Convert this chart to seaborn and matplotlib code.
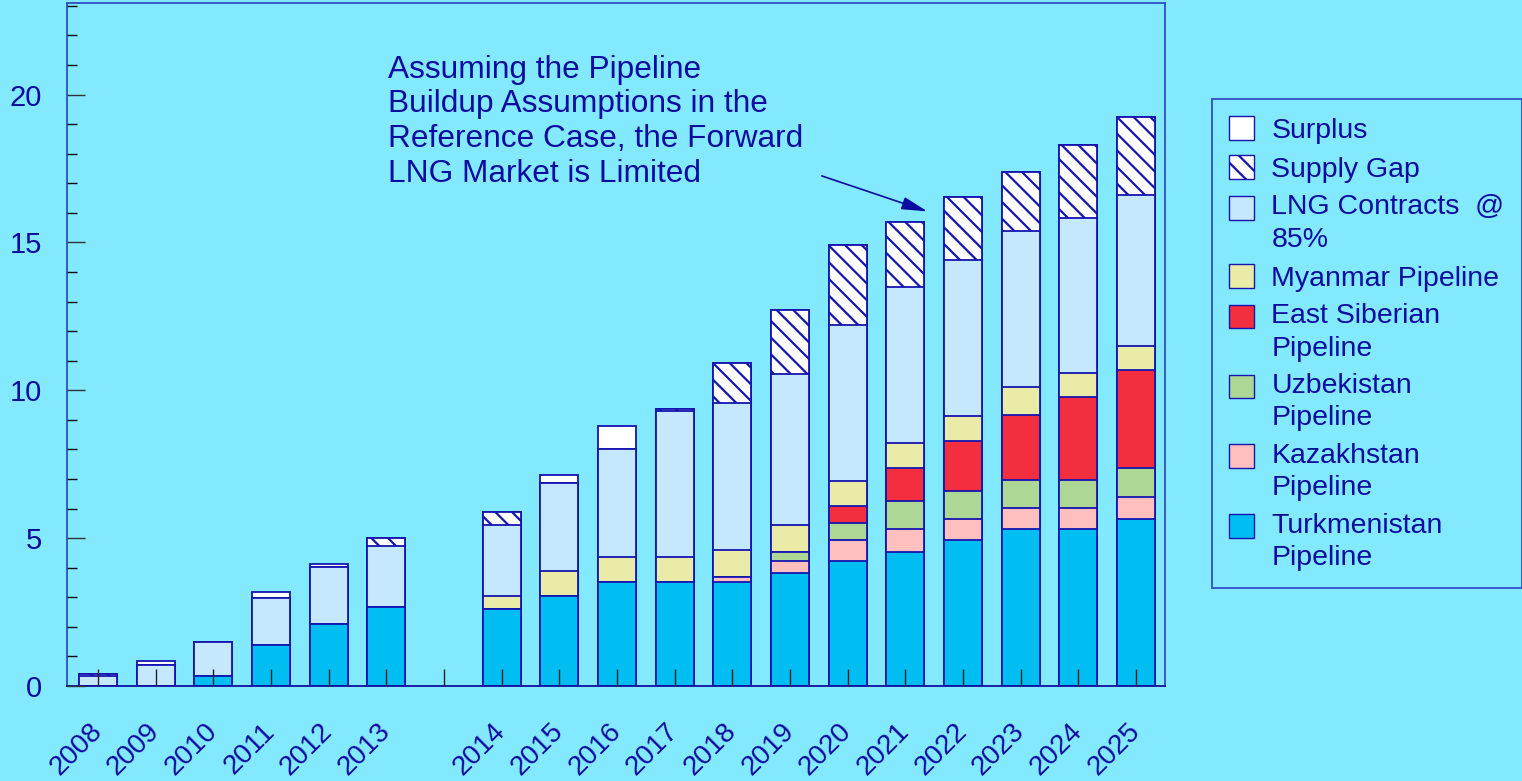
import numpy as np
import pandas as pd
import seaborn as sns
import matplotlib.pyplot as plt
from matplotlib.patches import Patch
from matplotlib.legend_handler import HandlerPatch
from matplotlib.ticker import MultipleLocator

# values (bcm), bottom layer first
years = ["2008", "2009", "2010", "2011", "2012", "2013",
         "2014", "2015", "2016", "2017", "2018", "2019",
         "2020", "2021", "2022", "2023", "2024", "2025"]
turkmenistan = [0, 0, 0.34, 1.37, 2.08, 2.68, 2.60, 3.05, 3.51, 3.51, 3.50, 3.83,
                4.21, 4.53, 4.93, 5.30, 5.30, 5.63]
kazakhstan = [0, 0, 0, 0, 0, 0, 0, 0, 0, 0, 0.19, 0.38,
              0.72, 0.77, 0.70, 0.71, 0.71, 0.77]
uzbekistan = [0, 0, 0, 0, 0, 0, 0, 0, 0, 0, 0, 0.33,
              0.57, 0.97, 0.97, 0.97, 0.97, 0.97]
east_siberian = [0, 0, 0, 0, 0, 0, 0, 0, 0, 0, 0, 0,
                 0.59, 1.10, 1.68, 2.20, 2.78, 3.31]
myanmar = [0, 0, 0, 0, 0, 0, 0.45, 0.85, 0.84, 0.84, 0.90, 0.89,
           0.83, 0.84, 0.84, 0.92, 0.84, 0.83]
lng = [0.34, 0.71, 1.16, 1.60, 1.93, 2.05, 2.39, 2.95, 3.67, 4.95, 4.98, 5.11,
       5.29, 5.29, 5.29, 5.28, 5.24, 5.11]
supply_gap = [0.06, 0, 0, 0, 0, 0.27, 0.45, 0, 0, 0.07, 1.35, 2.19,
              2.70, 2.20, 2.13, 2.00, 2.44, 2.63]
surplus = [0, 0.15, 0, 0.21, 0.13, 0, 0, 0.27, 0.77, 0, 0, 0,
           0, 0, 0, 0, 0, 0]

# empty slot between 2013 and 2014
order = years[:6] + [" "] + years[6:]

bg = "#82E9FF"
txt = "#0C0CA0"
edge = "#1515B0"

layers = [
    ("Turkmenistan\nPipeline", turkmenistan, "#00BEF2", None),
    ("Kazakhstan\nPipeline", kazakhstan, "#FFBFBF", None),
    ("Uzbekistan\nPipeline", uzbekistan, "#ADD795", None),
    ("East Siberian\nPipeline", east_siberian, "#F32E3E", None),
    ("Myanmar Pipeline", myanmar, "#EBEBA8", None),
    ("LNG Contracts  @\n85%", lng, "#C6E8FC", None),
    ("Supply Gap", supply_gap, "white", "\\\\"),
    ("Surplus", surplus, "white", None),
]

df = pd.DataFrame({"year": years})
run = np.zeros(len(years))
for name, vals, c, h in layers:
    run = run + np.array(vals)
    df[name] = run


class TopHandler(HandlerPatch):
    # puts the legend square next to the first line of a two-line label
    def __init__(self, shift, **kw):
        super().__init__(**kw)
        self.shift = shift

    def create_artists(self, legend, orig_handle, xdescent, ydescent,
                       width, height, fontsize, trans):
        return super().create_artists(legend, orig_handle, xdescent,
                                      ydescent - self.shift, width, height,
                                      fontsize, trans)


sns.set_theme(style="ticks")
plt.rcParams["font.family"] = ["Liberation Sans", "DejaVu Sans"]
plt.rcParams["hatch.color"] = edge
plt.rcParams["hatch.linewidth"] = 1.6

fig = plt.figure(figsize=(15.22, 7.81), dpi=100, facecolor=bg)
ax = fig.add_axes([0.044, 0.1217, 0.7214, 0.8745])
ax.set_facecolor(bg)

# stacked bars: draw cumulative heights from the top layer down
for name, vals, c, h in reversed(layers):
    sns.barplot(data=df, x="year", y=name, order=order, color=c, saturation=1,
                width=0.66, edgecolor=edge, linewidth=1.3, hatch=h,
                errorbar=None, ax=ax)

ax.set_axisbelow(False)
ax.set_xlim(-0.54, 18.5)
ax.set_ylim(0, 23.1)
ax.set_xlabel("")
ax.set_ylabel("")

ax.yaxis.set_major_locator(MultipleLocator(5))
ax.yaxis.set_minor_locator(MultipleLocator(1))
ax.tick_params(axis="y", which="major", direction="in", length=13, width=1,
               color="#333333", labelsize=21, labelcolor=txt, pad=18)
ax.tick_params(axis="y", which="minor", direction="in", length=7, width=1,
               color="#111111")
ax.tick_params(axis="x", direction="in", length=12, width=1, color="#222222",
               labelsize=20, labelcolor=txt, pad=30)
for lab in ax.get_xticklabels():
    lab.set_rotation(45)
    lab.set_ha("right")
    lab.set_va("center")
    lab.set_rotation_mode("anchor")

for s in ax.spines.values():
    s.set_color("#2F4FC8")
    s.set_linewidth(1.3)
ax.spines["bottom"].set_color("#1010A0")

ax.text(5.03, 21.35,
        "Assuming the Pipeline\nBuildup Assumptions in the\n"
        "Reference Case, the Forward\nLNG Market is Limited",
        ha="left", va="top", fontsize=22.8, color=txt, linespacing=1.2)
ax.annotate("", xy=(14.38, 16.05), xytext=(12.55, 17.25),
            arrowprops=dict(arrowstyle="-|>,head_length=1.3,head_width=0.32",
                            color=txt, lw=1.2, shrinkA=0, shrinkB=0))

handles = [Patch(facecolor=c, edgecolor=edge, hatch=h, label=name)
           for name, vals, c, h in reversed(layers)]
hmap = {hd: TopHandler(11.5) for hd in handles if "\n" in hd.get_label()}
leg = fig.legend(handles=handles, loc="upper left", handler_map=hmap,
                 bbox_to_anchor=(0.796, 0.873), fontsize=20.5,
                 frameon=True, fancybox=False, framealpha=1,
                 facecolor=bg, edgecolor="#2F4FC8",
                 handlelength=0.9, handleheight=0.9, handletextpad=0.6,
                 labelspacing=0.40, borderpad=0.6, borderaxespad=0)
leg.get_frame().set_linewidth(1.3)
for t in leg.get_texts():
    t.set_color(txt)
    t.set_linespacing(1.32)

fig.savefig("out.png", dpi=100, facecolor=bg)
